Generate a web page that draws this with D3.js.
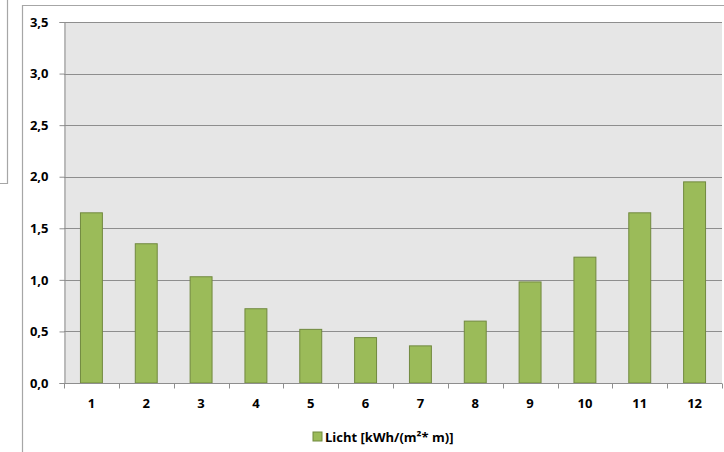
<!DOCTYPE html>
<html>
<head>
<meta charset="utf-8">
<script src="https://cdn.jsdelivr.net/npm/d3@7"></script>
<style>
  body { margin: 0; background: #fff; }
  svg { display: block; font-family: "Open Sans", sans-serif; }
</style>
</head>
<body>
<svg id="chart" width="724" height="452"></svg>
<script>
// Chart data
const months = ['1', '2', '3', '4', '5', '6', '7', '8', '9', '10', '11', '12'];
const licht = [1.65, 1.35, 1.03, 0.72, 0.52, 0.44, 0.36, 0.60, 0.98, 1.22, 1.65, 1.95];
const yTicks = [0, 0.5, 1.0, 1.5, 2.0, 2.5, 3.0, 3.5];
const seriesName = 'Licht [kWh/(m²* m)]';

const svg = d3.select('#chart');
const plot = { left: 64, right: 722, top: 22, bottom: 383 };
const fontFamily = '"Open Sans", sans-serif';

// Neighbouring object box at the left edge
svg.append('path')
    .attr('d', 'M7.5,0 V183.5 H0')
    .attr('fill', 'none')
    .attr('stroke', '#a6a6a6')
    .attr('stroke-width', 1.2);

// Chart frame (left and top borders)
svg.append('path')
    .attr('d', 'M22.5,452 V5.5 H724')
    .attr('fill', 'none')
    .attr('stroke', '#a6a6a6')
    .attr('stroke-width', 1.2);

const x = d3.scaleBand()
    .domain(months)
    .range([plot.left, plot.right])
    .paddingInner(0.6)
    .paddingOuter(0.3);

const y = d3.scaleLinear()
    .domain([0, 3.5])
    .range([plot.bottom, plot.top]);

// Plot background
svg.append('rect')
    .attr('x', plot.left)
    .attr('y', plot.top)
    .attr('width', plot.right - plot.left)
    .attr('height', plot.bottom - plot.top)
    .attr('fill', '#e6e6e6');

// Gridlines
svg.append('g')
    .selectAll('line')
    .data(yTicks.filter(d => d > 0))
    .enter()
    .append('line')
    .attr('x1', plot.left)
    .attr('x2', plot.right)
    .attr('y1', d => Math.round(y(d)) + 0.5)
    .attr('y2', d => Math.round(y(d)) + 0.5)
    .attr('stroke', '#8e8e8e')
    .attr('stroke-width', 1);

// Bars
svg.append('g')
    .selectAll('rect')
    .data(licht)
    .enter()
    .append('rect')
    .attr('x', (d, i) => x(months[i]))
    .attr('y', d => y(d))
    .attr('width', x.bandwidth())
    .attr('height', d => plot.bottom - y(d))
    .attr('fill', '#9bbb59')
    .attr('stroke', '#71893f')
    .attr('stroke-width', 1);

// Y axis
const yAxis = svg.append('g')
    .attr('transform', `translate(${plot.left + 0.5},0)`)
    .call(d3.axisLeft(y)
        .tickValues(yTicks)
        .tickSize(5)
        .tickPadding(11)
        .tickFormat(d => d3.format('.1f')(d).replace('.', ',')));

// X axis with ticks on category boundaries
const xEdges = months.map((m, i) => plot.left + i * (plot.right - plot.left) / months.length)
    .concat([plot.right]);
const xAxis = svg.append('g')
    .attr('transform', `translate(0,${plot.bottom + 0.5})`)
    .call(d3.axisBottom(x).tickSize(0).tickPadding(15));

xAxis.selectAll('.edge')
    .data(xEdges)
    .enter()
    .append('line')
    .attr('class', 'edge')
    .attr('x1', d => Math.round(d) + 0.5)
    .attr('x2', d => Math.round(d) + 0.5)
    .attr('y1', 0)
    .attr('y2', 5)
    .attr('stroke', '#8e8e8e');

[yAxis, xAxis].forEach(ax => {
    ax.select('.domain').attr('stroke', '#8e8e8e');
    ax.selectAll('.tick line').attr('stroke', '#8e8e8e');
    ax.selectAll('text')
        .attr('font-family', fontFamily)
        .attr('font-size', 13)
        .attr('font-weight', 'bold')
        .attr('fill', '#000');
});
xAxis.select('.domain').attr('d', `M${plot.left},0H${plot.right}`);

// Legend
const legend = svg.append('g').attr('transform', 'translate(313,432)');
legend.append('rect')
    .attr('width', 9)
    .attr('height', 9)
    .attr('fill', '#9bbb59')
    .attr('stroke', '#71893f');
legend.append('text')
    .attr('x', 12)
    .attr('y', 9.5)
    .attr('font-family', fontFamily)
    .attr('font-size', 13)
    .attr('font-weight', 'bold')
    .text(seriesName);
</script>
</body>
</html>
